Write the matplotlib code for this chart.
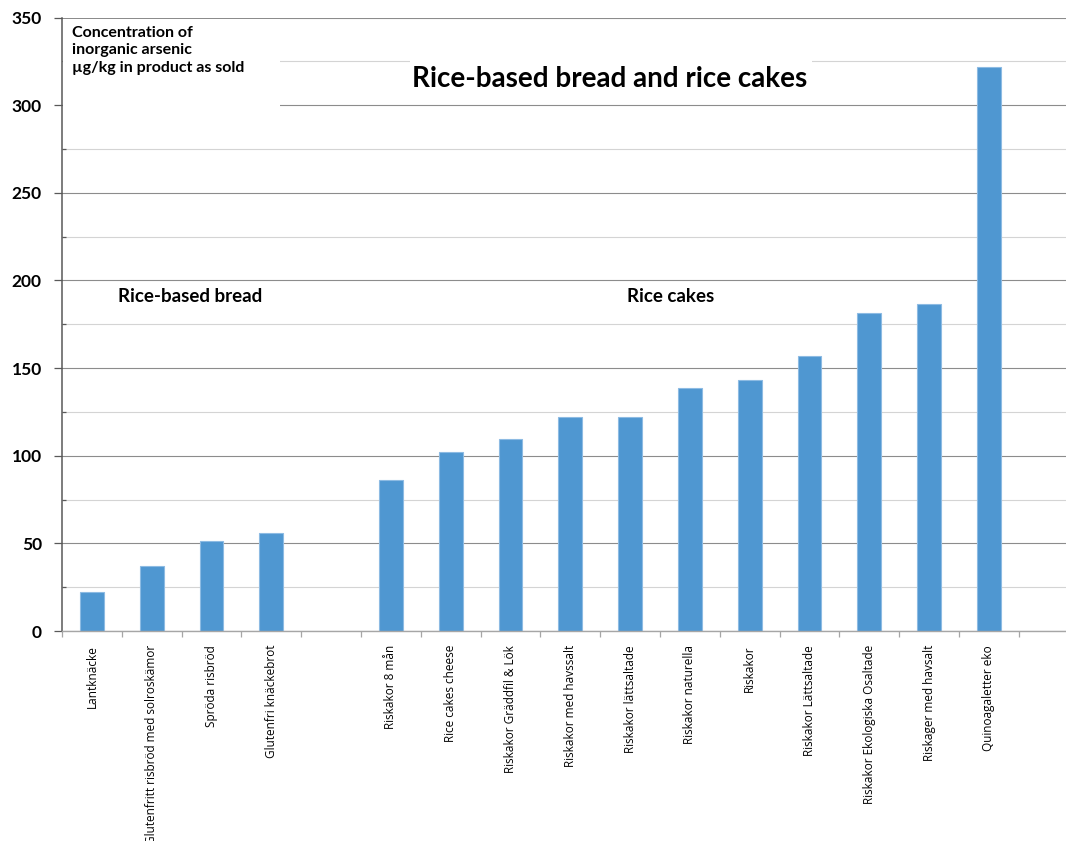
import numpy as np
import matplotlib
matplotlib.use("Agg")
import matplotlib.pyplot as plt
from matplotlib.patches import Rectangle
from matplotlib.ticker import MultipleLocator

plt.rcParams['font.family'] = ['Lato', 'DejaVu Sans']

# inorganic arsenic, µg/kg in product as sold
bread_names = ["Lantknäcke", "Glutenfritt risbröd med solroskämor",
               "Spröda risbröd", "Glutenfri knäckebrot"]
bread_values = [22.2, 36.9, 51.5, 55.7]

cake_names = ["Riskakor 8 mån", "Rice cakes cheese", "Riskakor Gräddfil & Lök",
              "Riskakor med havssalt", "Riskakor lättsaltade", "Riskakor naturella",
              "Riskakor", "Riskakor Lättsaltade", "Riskakor Ekologiska Osaltade",
              "Riskager med havsalt", "Quinoagaletter eko"]
cake_values = [86.1, 102.0, 109.5, 122.0, 122.0, 138.4,
               143.0, 157.0, 181.3, 186.3, 321.5]

bar_color = '#4f97d1'
edge_color = '#8dbbe3'

# bread first, one empty slot, then the rice cakes
bread_x = np.arange(len(bread_names))
cake_x = np.arange(len(cake_names)) + len(bread_names) + 1
n_slots = len(bread_names) + 1 + len(cake_names)

W, H = 1066, 841
fig = plt.figure(figsize=(W / 100, H / 100), dpi=100)
ax = fig.add_axes([62 / W, (H - 631) / H, (1066 - 62) / W, (631 - 17.5) / H])

ax.bar(bread_x, bread_values, width=0.4, color=bar_color, edgecolor=edge_color,
       linewidth=0.8, zorder=2)
ax.bar(cake_x, cake_values, width=0.4, color=bar_color, edgecolor=edge_color,
       linewidth=0.8, zorder=2)

ax.set_xlim(-0.5, n_slots - 0.5 + 0.79)
ax.set_ylim(0, 350)

# y axis: labels every 50, light lines every 25
ax.yaxis.set_major_locator(MultipleLocator(50))
ax.yaxis.set_minor_locator(MultipleLocator(25))
ax.set_axisbelow(True)
ax.grid(axis='y', which='major', color='#8c8c8c', linewidth=0.8)
ax.grid(axis='y', which='minor', color='#d4d4d4', linewidth=0.8)
ax.tick_params(axis='y', which='major', direction='out', length=6, width=0.9,
               color='#595959', pad=8.5, labelsize=12.5)
ax.tick_params(axis='y', which='minor', direction='in', length=3, width=0.9,
               color='#595959')
for lab in ax.get_yticklabels():
    lab.set_fontweight('bold')

# x axis: names at bar centres, tick marks between categories
centers = list(bread_x) + list(cake_x)
ax.set_xticks(centers)
ax.set_xticklabels(bread_names + cake_names, rotation=90, va='top', ha='center',
                   family='Open Sans', fontsize=8.5)
ax.set_xticks(np.arange(n_slots + 1) - 0.5, minor=True)
ax.tick_params(axis='x', which='major', length=0, pad=10)
ax.tick_params(axis='x', which='minor', direction='out', length=4, width=0.9,
               color='#a6a6a6')

ax.spines['top'].set_visible(False)
ax.spines['right'].set_visible(False)
ax.spines['left'].set_color('#595959')
ax.spines['left'].set_linewidth(1.1)
ax.spines['bottom'].set_color('#a6a6a6')
ax.spines['bottom'].set_linewidth(1.0)

# white boxes behind the unit note and the heading
axw, axh = 1066 - 62, 631 - 17.5
ax.add_patch(Rectangle(((63 - 62) / axw, (631 - 110) / axh), (280 - 63) / axw,
                       (110 - 19) / axh, transform=ax.transAxes,
                       facecolor='white', edgecolor='none', zorder=1.5))
ax.add_patch(Rectangle(((410 - 62) / axw, (631 - 100) / axh), (812 - 410) / axw,
                       (100 - 55) / axh, transform=ax.transAxes,
                       facecolor='white', edgecolor='none', zorder=1.5))

ax.text((72 - 62) / axw, (631 - 26) / axh,
        "Concentration of\ninorganic arsenic\nµg/kg in product as sold",
        transform=ax.transAxes, ha='left', va='top', fontsize=11.5,
        fontweight='bold', linespacing=1.3, zorder=3)
ax.text((610 - 62) / axw, (631 - 79) / axh, "Rice-based bread and rice cakes",
        transform=ax.transAxes, ha='center', va='center', fontsize=20,
        fontweight='bold', zorder=3)

ax.text(1.64, 191, "Rice-based bread", ha='center', va='center', fontsize=13.5,
        fontweight='bold', zorder=3)
ax.text(9.68, 191, "Rice cakes", ha='center', va='center', fontsize=13.5,
        fontweight='bold', zorder=3)

fig.savefig("out.png", dpi=100)
